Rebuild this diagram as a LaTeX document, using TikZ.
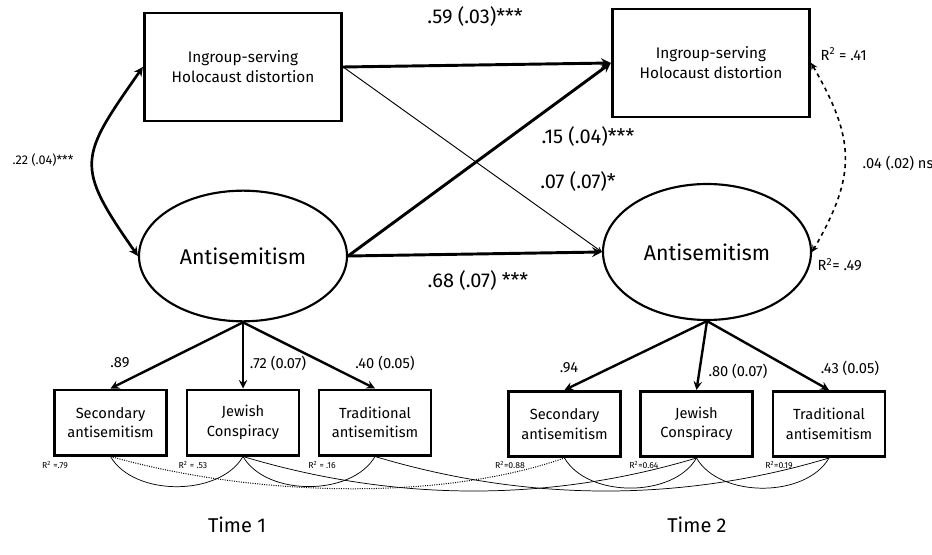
\documentclass[tikz,border=0pt]{standalone}
\usepackage{fontspec}
\setmainfont{Fira Sans}
\usetikzlibrary{shapes.geometric}

\begin{document}
\begin{tikzpicture}[x=0.75pt, y=0.75pt, >=stealth,
        obsbox/.style={draw, line width=2.2pt, minimum width=148pt, minimum height=81pt, align=center, font=\fontsize{11.5}{15}\selectfont},
        indbox/.style={draw, line width=2pt, minimum width=84pt, minimum height=49pt, align=center, font=\fontsize{11}{14.5}\selectfont},
        latent/.style={draw, ellipse, line width=1.6pt, minimum width=156pt, minimum height=98pt, font=\fontsize{16}{19}\selectfont},
        strong/.style={->, line width=2.2pt},
        load/.style={->, line width=1.8pt},
        resid/.style={line width=0.55pt},
        coef/.style={font=\fontsize{15}{18}\selectfont},
        small/.style={font=\fontsize{11}{13}\selectfont},
        tiny/.style={font=\fontsize{6.5}{8}\selectfont}]
    \useasboundingbox (0,0) rectangle (932,554);

    % --- Time 1 ---
    \node[obsbox] (hd1) at (243,487) {Ingroup-serving\\Holocaust distortion};
    \node[latent] (as1) at (243,298) {Antisemitism};
    \node[indbox] (sec1) at (110.5,131.5) {Secondary\\antisemitism};
    \node[indbox] (jew1) at (243,131.5) {Jewish\\Conspiracy};
    \node[indbox] (trad1) at (375,131.5) {Traditional\\antisemitism};

    \draw[<->, line width=2pt] (hd1.west) to[out=235, in=125, looseness=1.5] (as1.west);
    \node[font=\fontsize{9.5}{11}\selectfont] (cov1) at (43,394) {.22 (.04)***};

    \draw[load] (as1.south) -- (sec1.north);
    \draw[load] (as1.south) -- (jew1.north);
    \draw[load] (as1.south) -- (trad1.north);
    \node[small] (l89) at (120,191) {.89};
    \node[small] (l72) at (278,191) {.72 (0.07)};
    \node[small] (l40) at (385,191) {.40 (0.05)};

    \node[tiny] (r79) at (55,89) {R\textsuperscript{2} =.79};
    \node[tiny] (r53) at (193,89) {R\textsuperscript{2} = .53};
    \node[tiny] (r16) at (322,89) {R\textsuperscript{2} = .16};

    % --- Time 2 ---
    \node[obsbox] (hd2) at (711,491) {Ingroup-serving\\Holocaust distortion};
    \node[latent, minimum height=102pt] (as2) at (707,302) {Antisemitism};
    \node[indbox] (sec2) at (564.5,130) {Secondary\\antisemitism};
    \node[indbox] (jew2) at (696.5,130) {Jewish\\Conspiracy};
    \node[indbox] (trad2) at (829,130) {Traditional\\antisemitism};

    \draw[<->, dashed, line width=1.2pt] (hd2.east) to[out=-60, in=60, looseness=1.2] (as2.east);
    \node[small, anchor=west] (cov2) at (858,391) {.04 (.02) ns};
    \node[small, anchor=west] (r41) at (816,500) {R\textsuperscript{2} = .41};
    \node[small, anchor=west] (r49) at (813,289) {R\textsuperscript{2}= .49};

    \draw[load] (as2.south) -- (sec2.north);
    \draw[load] (as2.south) -- (jew2.north);
    \draw[load] (as2.south) -- (trad2.north);
    \node[small] (l94) at (569,186) {.94};
    \node[small] (l80) at (738,183) {.80 (0.07)};
    \node[small] (l43) at (850,186) {.43 (0.05)};

    \node[tiny] (r88) at (510,89) {R\textsuperscript{2}=0.88};
    \node[tiny] (r64) at (644,89) {R\textsuperscript{2}=0.64};
    \node[tiny] (r19) at (779,89) {R\textsuperscript{2}=0.19};

    % --- Paths across time ---
    \draw[strong] (hd1.east) -- (hd2.west);
    \draw[->, line width=0.7pt] (hd1.east) -- (as2.west);
    \draw[strong] (as1.east) -- (hd2.west);
    \draw[strong] (as1.east) -- (as2.west);
    \node[coef] (b59) at (475,537) {.59 (.03)***};
    \node[coef] (b15) at (588,417) {.15 (.04)***};
    \node[coef] (b07) at (578,372) {.07 (.07)*};
    \node[coef] (b68) at (478,273) {.68 (.07) ***};

    % residual covariances
    \draw[resid] (sec1.south) to[out=-60, in=-120, looseness=0.9] (jew1.south);
    \draw[resid] (jew1.south) to[out=-60, in=-120, looseness=0.9] (trad1.south);
    \draw[resid] (sec2.south) to[out=-60, in=-120, looseness=0.9] (jew2.south);
    \draw[resid] (jew2.south) to[out=-60, in=-120, looseness=0.9] (trad2.south);
    \draw[resid, line width=0.75pt, densely dotted] (sec1.south) .. controls +(150,-42) and +(-120,-42) .. (sec2.south);
    \draw[resid] (jew1.south) .. controls +(150,-45) and +(-150,-45) .. (jew2.south);
    \draw[resid] (trad1.south) .. controls +(150,-45) and +(-150,-45) .. (trad2.south);

    \node[font=\fontsize{15}{18}\selectfont] (time1) at (237,29) {Time 1};
    \node[font=\fontsize{15}{18}\selectfont] (time2) at (697,29) {Time 2};
\end{tikzpicture}
\end{document}
